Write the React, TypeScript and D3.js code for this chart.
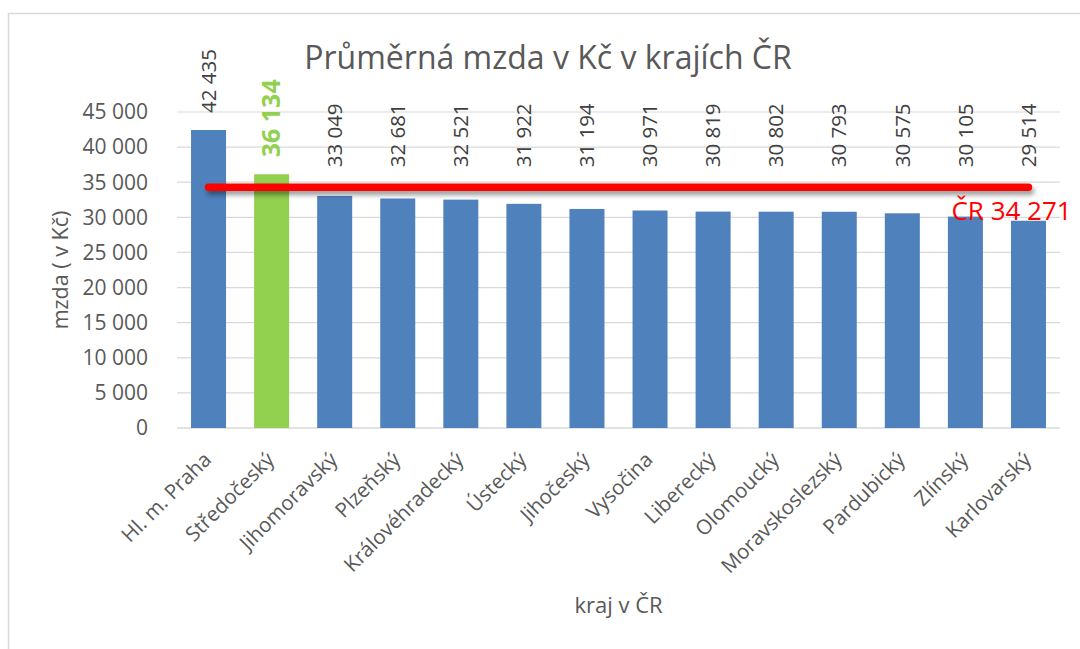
import React from "react";
import * as d3 from "d3";

const regions = [
  "Hl. m. Praha", "Středočeský", "Jihomoravský", "Plzeňský", "Královéhradecký",
  "Ústecký", "Jihočeský", "Vysočina", "Liberecký", "Olomoucký",
  "Moravskoslezský", "Pardubický", "Zlínský", "Karlovarský",
];
const wages = [42435, 36134, 33049, 32681, 32521, 31922, 31194, 30971, 30819, 30802, 30793, 30575, 30105, 29514];
const highlighted = "Středočeský";
const average = 34271;
const averageLabel = "ČR 34 271";
const yTicks = [0, 5000, 10000, 15000, 20000, 25000, 30000, 35000, 40000, 45000];
const title = "Průměrná mzda v Kč v krajích ČR";
const xTitle = "kraj v ČR";
const yTitle = "mzda ( v Kč)";

const W = 1080;
const H = 649;
const left = 177;
const right = 1060;
const top = 112;
const bottom = 428;
const FONT = "'Open Sans', 'Noto Sans', sans-serif";

const fmt = (v: number) => d3.format(",")(v).replace(/,/g, " ");

export default function App() {
  const x = d3.scaleBand<string>().domain(regions).range([left, right]).paddingInner(0.445).paddingOuter(0.2225);
  const y = d3.scaleLinear().domain([0, 45000]).range([bottom, top]);
  const yAvg = y(average);
  const first = x(regions[0])! + x.bandwidth() / 2;
  const last = x(regions[regions.length - 1])! + x.bandwidth() / 2;
  const line = d3.line<[number, number]>()([[first, yAvg], [last, yAvg]]) || "";

  return (
    <svg width={W} height={H} style={{ position: "fixed", left: 0, top: 0, background: "#fff" }} fontFamily={FONT}>
      <defs>
        <filter id="sh" filterUnits="userSpaceOnUse" x={0} y={yAvg - 30} width={W} height={60}>
          <feGaussianBlur in="SourceAlpha" stdDeviation="2.5" />
          <feOffset dx="2" dy="4" result="b" />
          <feComponentTransfer>
            <feFuncA type="linear" slope="0.4" />
          </feComponentTransfer>
          <feMerge>
            <feMergeNode />
            <feMergeNode in="SourceGraphic" />
          </feMerge>
        </filter>
      </defs>
      <rect x={0} y={0} width={W} height={H} fill="#fff" />
      <rect x={8.5} y={13.5} width={1200} height={800} fill="none" stroke="#D9D9D9" strokeWidth={1.5} />

      <text x={548} y={69} textAnchor="middle" fontSize={32} fill="#595959">{title}</text>

      {yTicks.map((t) => (
        <g key={t}>
          <line x1={left} x2={right} y1={y(t)} y2={y(t)} stroke="#D9D9D9" strokeWidth={t === 0 ? 1.5 : 1.2} />
          <text x={148} y={y(t)} dy="0.35em" textAnchor="end" fontSize={21} fill="#595959">{fmt(t)}</text>
        </g>
      ))}

      <text transform={`translate(60,270) rotate(-90)`} textAnchor="middle" dy="0.35em" fontSize={21.5} fill="#595959">{yTitle}</text>

      {regions.map((r, i) => (
        <rect key={r} x={x(r)} y={y(wages[i])} width={x.bandwidth()} height={bottom - y(wages[i])}
          fill={r === highlighted ? "#92D050" : "#4F81BD"} />
      ))}

      {regions.map((r, i) => {
        const cx = x(r)! + x.bandwidth() / 2;
        const hl = r === highlighted;
        const by = Math.min(y(wages[i]) - 17, yAvg - 20);
        return (
          <text key={r} transform={`translate(${cx},${by}) rotate(-90)`} dy="0.35em"
            fontSize={hl ? 25 : 20.5} fontWeight={hl ? "bold" : "normal"} fill={hl ? "#92D050" : "#404040"}>
            {fmt(wages[i])}
          </text>
        );
      })}

      <path d={line} stroke="#FF0000" strokeWidth={7.5} strokeLinecap="round" fill="none" filter="url(#sh)" />
      <text x={last - 77} y={yAvg + 33} fontSize={26} fill="#FF0000">{averageLabel}</text>

      {regions.map((r) => {
        const cx = x(r)! + x.bandwidth() / 2;
        return (
          <text key={r} transform={`translate(${cx + 4},${461}) rotate(-45)`} textAnchor="end" fontSize={20.5} fill="#595959">{r}</text>
        );
      })}

      <text x={(left + right) / 2} y={613} textAnchor="middle" fontSize={22} fill="#595959">{xTitle}</text>
    </svg>
  );
}
